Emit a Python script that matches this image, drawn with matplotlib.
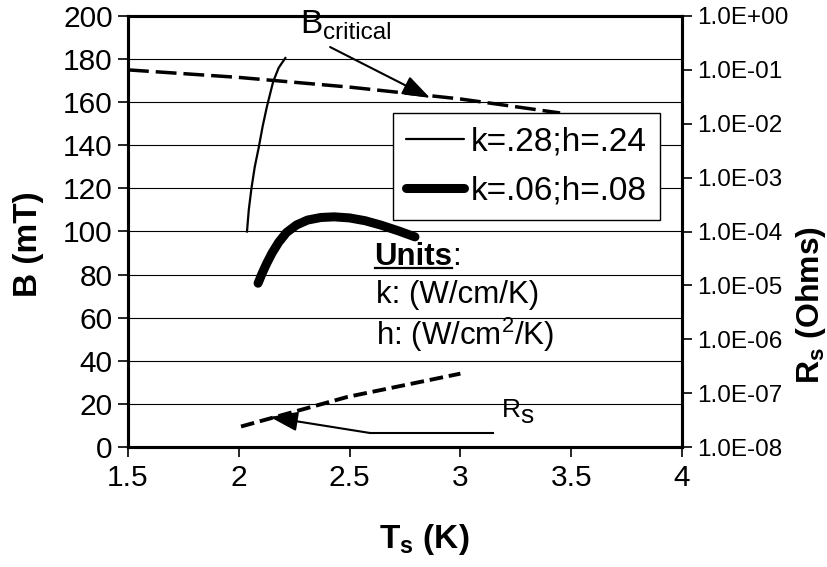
import numpy as np
import matplotlib
matplotlib.use("Agg")
import matplotlib.pyplot as plt

plt.rcParams['font.family'] = ['Liberation Sans', 'DejaVu Sans']
plt.rcParams['mathtext.fontset'] = 'custom'
plt.rcParams['mathtext.rm'] = 'Liberation Sans'
plt.rcParams['mathtext.it'] = 'Liberation Sans'
plt.rcParams['mathtext.bf'] = 'Liberation Sans:bold'

# %% data
# thermal solution, k=.28 ; h=.24
T_thin = [2.037, 2.045, 2.057, 2.072, 2.09, 2.108, 2.127, 2.155, 2.18, 2.21]
B_thin = [100, 110, 120, 130, 139, 149, 158, 169.5, 176, 180.5]

# thermal solution, k=.06 ; h=.08
T_thick = [2.087, 2.105, 2.125, 2.15, 2.18, 2.215, 2.26, 2.31, 2.37,
           2.43, 2.5, 2.57, 2.64, 2.72, 2.795]
B_thick = [76, 80.5, 85, 90, 95, 99.5, 103, 105.3, 106.5,
           106.8, 106.3, 105, 103, 100.3, 97.5]

# critical field of the superconductor
T_crit = [1.5, 2.0, 2.5, 3.0, 3.45]
B_crit = [175, 171.5, 167, 161.5, 155]

# surface resistance (right axis, log)
T_rs = [2.01, 2.49, 3.0]
Rs = [2.4e-8, 8.5e-8, 2.3e-7]

x_ticks = [1.5, 2, 2.5, 3, 3.5, 4]
x_ticklabels = ['1.5', '2', '2.5', '3', '3.5', '4']
b_ticks = list(range(0, 201, 20))
rs_ticks = [10.0 ** e for e in range(-8, 1)]

W, H = 827, 567

# %% figure
fig = plt.figure(figsize=(W / 100, H / 100), dpi=100)
ax = fig.add_axes([128 / W, 1 - 447 / H, 554 / W, 431 / H])
ax2 = ax.twinx()

ax.set_xlim(1.5, 4)
ax.set_ylim(0, 200)
ax2.set_yscale('log')
ax2.set_ylim(1e-8, 1e0)

ax.set_yticks(b_ticks)
ax.set_xticks(x_ticks)
ax.set_xticklabels(x_ticklabels)
ax2.set_yticks(rs_ticks)
ax2.set_yticklabels([f"{v:.1E}" for v in rs_ticks])
ax2.minorticks_off()

ax.grid(axis='y', color='black', linewidth=0.8)
ax.set_axisbelow(True)

for a in (ax, ax2):
    for s in a.spines.values():
        s.set_linewidth(2.2)
ax.tick_params(axis='both', direction='out', length=7, width=1.2,
               labelsize=21.5, pad=4)
ax.tick_params(axis='x', pad=5)
ax2.tick_params(axis='y', direction='out', length=7, width=1.2,
                labelsize=17.5, pad=4)

# curves
l1, = ax.plot(T_thin, B_thin, color='black', lw=1.6)
l2, = ax.plot(T_thick, B_thick, color='black', lw=6.5,
              solid_capstyle='round', solid_joinstyle='round')
ax.plot(T_crit, B_crit, color='black', lw=2.5, dashes=(6, 2))
ax2.plot(T_rs, Rs, color='black', lw=2.8, dashes=(3.5, 1.5))

# axis labels
ax.set_ylabel('B (mT)', fontsize=24, fontweight='bold')
ax.yaxis.set_label_coords(-0.152, 0.47)
ax.set_xlabel(r'T$_\mathbf{s}$ (K)', fontsize=24, fontweight='bold')
ax.xaxis.set_label_coords(0.535, -0.175)
ax2.set_ylabel(r'R$_\mathbf{s}$ (Ohms)', fontsize=23, fontweight='bold')
ax2.yaxis.set_label_coords(1.202, 0.33)

# legend
leg = ax2.legend([l1, l2], ['k=.28;h=.24', 'k=.06;h=.08'],
                 loc='upper left', bbox_to_anchor=(0.478, 0.775),
                 fontsize=24, frameon=True, fancybox=False,
                 edgecolor='black', framealpha=1, handlelength=1.75,
                 handletextpad=0.2, labelspacing=0.55, borderpad=0.4,
                 borderaxespad=0)
leg.get_frame().set_linewidth(1.0)
for h in leg.get_lines():
    h.set_solid_capstyle('round')

# arrow annotations
head = '-|>,head_length=1.7,head_width=0.6'
ax.text(2.276, 192, 'B', fontsize=24, clip_on=False)
ax.text(2.38, 189.5, 'critical', fontsize=17.5, clip_on=False)
ax.annotate('', xy=(2.863, 162), xytext=(2.412, 185.6),
            arrowprops=dict(arrowstyle=head, color='black', lw=1.5,
                            shrinkA=0, shrinkB=0))

ax.text(3.188, 13.9, 'R', fontsize=19)
ax.text(3.27, 11.2, 's', fontsize=19)
ax.plot([3.147, 2.592], [6.5, 6.5], color='black', lw=1.5)
ax.annotate('', xy=(2.141, 13.9), xytext=(2.592, 6.5),
            arrowprops=dict(arrowstyle=head, color='black', lw=1.5,
                            shrinkA=0, shrinkB=0))

# units block, "Units" underlined just under its baseline
ux = 2.612
units = ax.text(ux, 84.5, 'Units', fontsize=22.5, fontweight='bold')
fig.canvas.draw()
bb = units.get_window_extent()
x0, _ = ax.transData.inverted().transform((bb.x0, bb.y0))
x1, _ = ax.transData.inverted().transform((bb.x1, bb.y0))
ax.plot([x0 + 0.003, x1 - 0.003], [83.0, 83.0], color='black', lw=1.6)
ax.text(x1, 84.5, ':', fontsize=22.5)
ax.text(ux + 0.005, 67, 'k: (W/cm/K)', fontsize=22.5)
ax.text(ux + 0.005, 47.3, r'h: (W/cm$^{2}$/K)', fontsize=22.5)

fig.savefig('out.png', dpi=100)
